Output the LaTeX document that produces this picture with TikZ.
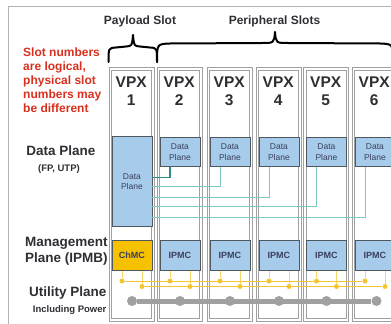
\documentclass[tikz,border=0pt]{standalone}
\usepackage{fontspec}
\setmainfont{Liberation Sans}
\definecolor{boxblue}{HTML}{A7CBEB}
\definecolor{boxedge}{HTML}{50585F}
\definecolor{linkteal}{HTML}{7EC8C0}
\definecolor{darkteal}{HTML}{2C8C84}
\definecolor{busyellow}{HTML}{F5C431}
\definecolor{stubyellow}{HTML}{F7D567}
\definecolor{chmcgold}{HTML}{F6C200}
\definecolor{utilgray}{HTML}{A0A0A0}
\definecolor{slotgray}{HTML}{A0A0A0}
\definecolor{notered}{HTML}{D7301E}
\definecolor{labeltext}{HTML}{2E2E33}
\definecolor{boxtext}{HTML}{3A3F5C}
\begin{document}
\begin{tikzpicture}[x=1pt,y=-1pt,
  slotframe/.style={draw=slotgray,line width=1pt,double=white,double distance=1.1pt,
    minimum width=42.5pt,minimum height=251pt,anchor=north west,inner sep=0pt},
  dpbox/.style={draw=boxedge,fill=boxblue,line width=0.8pt,inner sep=0pt,anchor=north west,
    minimum width=40pt,font=\fontsize{8.5}{10.5}\selectfont,text=boxtext,align=center},
  mgmtbox/.style={draw=boxedge,fill=boxblue,line width=0.8pt,inner sep=0pt,anchor=north west,
    minimum width=40pt,minimum height=30pt,font=\bfseries\fontsize{9}{10}\selectfont,text=boxtext},
  vpx/.style={font=\bfseries\fontsize{15.5}{16}\selectfont,text=labeltext,anchor=base,inner sep=0pt},
  note/.style={font=\bfseries\fontsize{12}{14}\selectfont,text=notered,anchor=base west,inner sep=0pt},
  plane/.style={font=\bfseries\fontsize{13.5}{15}\selectfont,text=labeltext,inner sep=0pt},
  planesub/.style={font=\bfseries\fontsize{9.5}{11}\selectfont,text=labeltext,inner sep=0pt},
  slothead/.style={font=\bfseries\fontsize{12}{14}\selectfont,text=labeltext,anchor=base,inner sep=0pt},
  brace/.style={draw=black,line width=2pt,line cap=round,line join=round},
  link/.style={draw=linkteal,line width=0.8pt},
  ydot/.style={circle,fill=busyellow,inner sep=0pt,minimum size=5pt},
  udot/.style={circle,fill=utilgray,inner sep=0pt,minimum size=10pt},
  ystub/.style={draw=stubyellow,line width=0.7pt},
  ybus/.style={draw=busyellow,line width=1pt},
  ubus/.style={draw=utilgray,line width=5pt}]
\useasboundingbox (0,0) rectangle (391,324);
\clip (0,0) rectangle (391,324);

% outer frame
\draw[draw=slotgray!80,line width=0.8pt] (8,6) rectangle (400,340);

% slot headings and braces
\node[slothead] (hpay) at (140,24) {Payload Slot};
\node[slothead] (hper) at (274.5,24) {Peripheral Slots};
\draw[brace] (108.5,62) .. controls (108.5,48) .. (116,47.5) -- (126,46.5)
  .. controls (132,46) .. (133,35) .. controls (134,46) .. (140,46.5) -- (150,47.5)
  .. controls (157,48) .. (157,62);
\draw[brace] (157,62) .. controls (157,44) .. (170,43.5) -- (262,43)
  .. controls (274,43) .. (275,32) .. controls (276,43) .. (288,43) -- (380,43.5)
  .. controls (393,44) .. (393,62);

% note on slot numbering
\node[note] (n1) at (23,56.5) {Slot numbers};
\node[note] (n2) at (23,70.5) {are logical,};
\node[note] (n3) at (23,84.5) {physical slot};
\node[note] (n4) at (23,98.5) {numbers may};
\node[note] (n5) at (23,112.5) {be different};

% plane labels
\node[plane,anchor=base] (ldp) at (61,155) {Data Plane};
\node[planesub,anchor=base] (ldps) at (59,171.5) {(FP, UTP)};
\node[plane,anchor=base west] (lmg1) at (25,246.7) {Management};
\node[plane,anchor=base west] (lmg2) at (25,262.7) {Plane (IPMB)};
\node[plane,anchor=base east] (lut) at (106.5,296.7) {Utility Plane};
\node[planesub,anchor=base east] (luts) at (106.5,312.7) {Including Power};

% slots
\foreach \i/\o in {1/109,2/157,3/207,4/256,5/303.5,6/352}{
  \node[slotframe] (slot\i) at (\o+1,68.5) {};
  \node[vpx] (vpx\i) at (\o+22.2,87.3) {VPX};
  \node[vpx] (num\i) at (\o+22.2,105) {\i};
}

% data plane boxes
\node[dpbox,minimum height=90pt] (dp1) at (111.5,136) {Data\\Plane};
\foreach \i/\b in {2/159.5,3/209.5,4/258.5,5/306,6/354.5}{
  \node[dpbox,minimum height=29pt] (dp\i) at (\b,137) {Data\\Plane};
}

% data plane links to slot 1
\draw[draw=darkteal,line width=1.3pt] ([xshift=10.5pt]dp2.south west) |- ([yshift=4pt]dp1.east);
\foreach \i/\s in {3/-5,4/-16,5/-25,6/-36}{
  \draw[link] ([xshift=10.5pt]dp\i.south west) |- ([yshift=\s pt]dp1.east);
}

% management boxes
\node[mgmtbox,fill=chmcgold] (m1) at (111.5,240) {ChMC};
\foreach \i/\b in {2/159.5,3/209.5,4/258.5,5/306,6/354.5}{
  \node[mgmtbox] (m\i) at (\b,240) {IPMC};
}

% IPMB buses
\foreach \i/\b in {1/111.5,2/159.5,3/209.5,4/258.5,5/306,6/354.5}{
  \node[ydot] (ya\i) at (\b+10.5,281) {};
  \node[ydot] (yb\i) at (\b+30.5,286.5) {};
  \draw[ystub] ([xshift=10.5pt]m\i.south west) -- (ya\i);
  \draw[ystub] ([xshift=30.5pt]m\i.south west) -- (yb\i);
}
\draw[ybus] (ya1) -- (ya6);
\draw[ybus] (yb1) -- (yb6);

% utility plane
\foreach \i/\b in {1/111.5,2/159.5,3/209.5,4/258.5,5/306,6/356}{
  \node[udot] (u\i) at (\b+20.5,301) {};
}
\draw[ubus] (u1) -- (u6);
\end{tikzpicture}
\end{document}
